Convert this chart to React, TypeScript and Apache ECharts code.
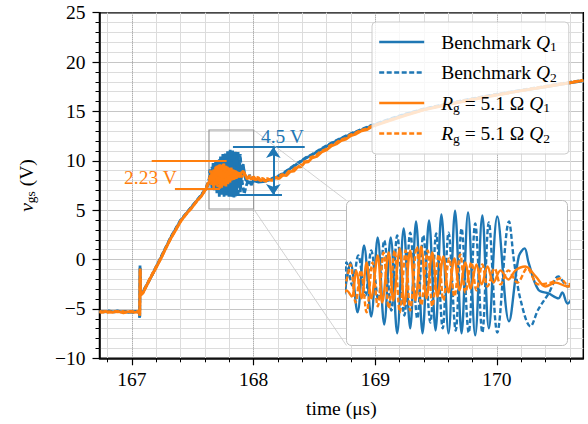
import React, { useEffect, useRef } from 'react';
import * as echarts from 'echarts';

const BLUE = '#1f77b4';
const ORANGE = '#ff7f0e';
const FONT = "'Liberation Serif', 'DejaVu Serif', serif";

const X_TICKS = [167, 168, 169, 170];
const SERIES_NAMES = ['Benchmark Q1', 'Benchmark Q2', 'Rg Q1', 'Rg Q2'];
const LEGEND_LABELS: Record<string, string> = {
  'Benchmark Q1': '{g| }Benchmark {i|Q}{s|1}',
  'Benchmark Q2': '{g| }Benchmark {i|Q}{s|2}',
  'Rg Q1': '{g| }{i|R}{s|g} = 5.1 Ω {i|Q}{s|1}',
  'Rg Q2': '{g| }{i|R}{s|g} = 5.1 Ω {i|Q}{s|2}',
};

// ---- Benchmark Q1 (solid blue) ----
const BQ1_PRE = [
  [166.733, -5.3], [166.76, -5.25], [166.79, -5.3], [166.82, -5.25], [166.85, -5.3], [166.88, -5.2],
  [166.91, -5.3], [166.94, -5.25], [166.97, -5.35], [167.0, -5.3], [167.03, -5.25], [167.06, -5.3],
  [167.063, -5.9], [167.066, -0.6], [167.07, -3.6], [167.09, -3.3], [167.155, -1.8], [167.24, 0.25],
  [167.32, 2.25], [167.4, 3.95], [167.49, 5.3], [167.57, 6.5], [167.61, 7.2], [167.635, 7.8],
];
const BQ1_RING = [
  [167.64, 8.41], [167.646, 9.11], [167.657, 7.18], [167.667, 9.76], [167.678, 7.02], [167.688, 10.07],
  [167.698, 6.71], [167.708, 10.07], [167.718, 6.37], [167.728, 10.42], [167.738, 6.56], [167.747, 10.69],
  [167.757, 6.37], [167.767, 10.73], [167.777, 6.48], [167.786, 10.96], [167.797, 6.37], [167.807, 11.11],
  [167.817, 6.37], [167.827, 11.04], [167.838, 6.29], [167.849, 10.92], [167.859, 6.56], [167.872, 10.88],
  [167.89, 6.83], [167.905, 9.34], [167.914, 9.65], [167.92, 9.11], [167.935, 8.06], [167.951, 7.91],
  [167.966, 7.72], [167.972, 7.95], [167.98, 7.52],
];
const BQ1_POST = [
  [167.99, 7.8], [168.0, 8.0], [168.04, 7.85], [168.08, 7.9], [168.14, 8.1], [168.2, 8.4], [168.25, 8.75],
  [168.3, 9.2], [168.36, 9.7], [168.42, 10.2], [168.48, 10.6], [168.56, 11.2], [168.64, 11.75],
  [168.72, 12.25], [168.8, 12.7], [168.88, 13.1], [168.97, 13.55], [169.1, 14.1], [169.25, 14.7],
  [169.4, 15.2], [169.6, 15.75], [169.8, 16.25], [170.0, 16.7], [170.2, 17.1], [170.4, 17.5],
  [170.6, 17.9], [170.71, 18.1],
];

// ---- Benchmark Q2 (dashed blue) ----
const BQ2_PRE = [
  [166.733, -5.25], [166.77, -5.3], [166.81, -5.2], [166.85, -5.3], [166.89, -5.25], [166.93, -5.3],
  [166.97, -5.25], [167.01, -5.35], [167.05, -5.3], [167.062, -5.25], [167.064, -5.8], [167.067, -0.8],
  [167.071, -3.5], [167.09, -3.25], [167.16, -1.7], [167.24, 0.3], [167.32, 2.3], [167.4, 4.0],
  [167.49, 5.35], [167.57, 6.55], [167.61, 7.3], [167.635, 8.2],
];
const BQ2_RING = [
  [167.64, 9.11], [167.649, 8.22], [167.658, 9.38], [167.669, 7.83], [167.678, 9.57], [167.689, 7.64],
  [167.698, 9.96], [167.709, 7.25], [167.718, 10.15], [167.729, 7.06], [167.738, 10.26], [167.749, 6.94],
  [167.758, 10.15], [167.769, 6.79], [167.778, 10.23], [167.788, 6.56], [167.797, 10.26], [167.808, 6.48],
  [167.817, 10.42], [167.828, 6.4], [167.838, 10.61], [167.849, 6.4], [167.859, 10.65], [167.872, 6.4],
  [167.89, 10.69], [167.898, 9.11], [167.908, 7.64], [167.923, 6.64], [167.935, 7.29], [167.951, 7.91],
  [167.966, 8.57], [167.972, 8.41], [167.98, 8.18],
];
const BQ2_POST = [
  [167.99, 8.3], [168.0, 8.1], [168.04, 7.9], [168.08, 7.95], [168.14, 8.15], [168.2, 8.45], [168.25, 8.8],
  [168.3, 9.25], [168.36, 9.75], [168.42, 10.25], [168.48, 10.65], [168.56, 11.25], [168.64, 11.8],
  [168.72, 12.3], [168.8, 12.75], [168.88, 13.15], [168.97, 13.6], [169.1, 14.15], [169.25, 14.75],
  [169.4, 15.25], [169.6, 15.8], [169.8, 16.3], [170.0, 16.75], [170.2, 17.15], [170.4, 17.55],
  [170.6, 17.95], [170.71, 18.15],
];

// ---- Rg = 5.1 Ω Q1 (solid orange) ----
const RQ1_PRE = [
  [166.733, -5.3], [166.75, -5.35], [166.78, -5.25], [166.81, -5.3], [166.84, -5.35], [166.87, -5.25],
  [166.9, -5.3], [166.93, -5.4], [166.96, -5.3], [166.99, -5.25], [167.02, -5.35], [167.05, -5.3],
  [167.062, -5.3], [167.064, -5.7], [167.067, -0.9], [167.071, -3.6], [167.09, -3.4], [167.15, -1.9],
  [167.2, -0.8], [167.24, 0.15], [167.28, 1.2], [167.32, 2.15], [167.36, 3.0], [167.4, 3.85],
  [167.45, 4.7], [167.49, 5.2], [167.53, 5.9], [167.57, 6.4], [167.61, 7.2], [167.635, 7.9],
];
const RQ1_RING = [
  [167.64, 8.03], [167.648, 7.79], [167.655, 8.8], [167.663, 7.72], [167.671, 9.11], [167.678, 7.72],
  [167.688, 9.38], [167.695, 7.56], [167.705, 9.49], [167.712, 7.64], [167.722, 9.65], [167.729, 7.45],
  [167.738, 9.57], [167.746, 7.64], [167.755, 9.72], [167.763, 7.72], [167.772, 9.49], [167.78, 7.79],
  [167.789, 9.34], [167.797, 7.95], [167.806, 9.26], [167.814, 8.03], [167.823, 9.11], [167.831, 8.1],
  [167.84, 9.03], [167.848, 8.26], [167.857, 8.95], [167.866, 8.33], [167.877, 8.8], [167.889, 8.45],
  [167.9, 8.8], [167.915, 8.95], [167.931, 8.57], [167.946, 8.18], [167.962, 8.33], [167.98, 8.18],
];
const RQ1_POST = [
  [167.99, 8.2], [168.0, 8.4], [168.02, 8.05], [168.04, 8.3], [168.06, 7.95], [168.08, 8.2], [168.1, 7.9],
  [168.12, 8.15], [168.15, 8.0], [168.18, 8.3], [168.21, 8.2], [168.24, 8.55], [168.27, 8.5], [168.3, 8.9],
  [168.33, 8.95], [168.36, 9.35], [168.39, 9.4], [168.42, 9.85], [168.45, 9.9], [168.48, 10.3],
  [168.52, 10.45], [168.56, 10.9], [168.6, 11.1], [168.64, 11.5], [168.68, 11.7], [168.72, 12.05],
  [168.76, 12.2], [168.8, 12.55], [168.84, 12.7], [168.88, 13.0], [168.93, 13.15], [168.97, 13.45],
  [169.1, 14.0], [169.25, 14.6], [169.4, 15.15], [169.6, 15.7], [169.8, 16.2], [170.0, 16.65],
  [170.2, 17.1], [170.4, 17.5], [170.6, 17.9], [170.71, 18.15],
];

// ---- Rg = 5.1 Ω Q2 (dashed orange) ----
const RQ2_PRE = [
  [166.733, -5.25], [166.76, -5.3], [166.8, -5.35], [166.84, -5.25], [166.88, -5.3], [166.92, -5.25],
  [166.96, -5.35], [167.0, -5.3], [167.04, -5.25], [167.062, -5.3], [167.064, -5.6], [167.067, -1.0],
  [167.071, -3.5], [167.09, -3.35], [167.15, -1.85], [167.24, 0.2], [167.32, 2.2], [167.4, 3.9],
  [167.49, 5.25], [167.57, 6.45], [167.61, 7.25], [167.635, 8.1],
];
const RQ2_RING = [
  [167.64, 8.41], [167.646, 9.03], [167.654, 7.56], [167.662, 8.8], [167.671, 7.18], [167.68, 9.11],
  [167.688, 7.41], [167.697, 9.49], [167.705, 7.33], [167.714, 9.57], [167.722, 7.18], [167.731, 9.57],
  [167.738, 7.25], [167.748, 9.72], [167.755, 7.45], [167.765, 9.57], [167.772, 7.41], [167.782, 9.42],
  [167.789, 7.64], [167.798, 9.26], [167.806, 7.79], [167.815, 9.42], [167.823, 7.95], [167.832, 9.11],
  [167.84, 8.03], [167.849, 9.03], [167.857, 8.18], [167.868, 8.88], [167.877, 8.26], [167.889, 8.8],
  [167.903, 8.33], [167.918, 8.88], [167.935, 8.26], [167.954, 8.33], [167.969, 8.49], [167.98, 8.26],
];
const RQ2_POST = [
  [167.99, 8.3], [168.01, 8.1], [168.03, 8.35], [168.05, 8.0], [168.07, 8.25], [168.09, 7.95],
  [168.11, 8.2], [168.14, 8.05], [168.17, 8.35], [168.2, 8.25], [168.23, 8.6], [168.26, 8.55],
  [168.29, 8.95], [168.32, 9.0], [168.35, 9.4], [168.38, 9.45], [168.41, 9.9], [168.44, 9.95],
  [168.47, 10.35], [168.51, 10.5], [168.55, 10.95], [168.59, 11.15], [168.63, 11.55], [168.67, 11.75],
  [168.71, 12.1], [168.75, 12.25], [168.79, 12.6], [168.83, 12.75], [168.87, 13.05], [168.92, 13.2],
  [168.97, 13.5], [169.1, 14.05], [169.25, 14.65], [169.4, 15.2], [169.6, 15.75], [169.8, 16.25],
  [170.0, 16.7], [170.2, 17.1], [170.4, 17.55], [170.6, 17.95], [170.71, 18.15],
];

const benchQ1 = [...BQ1_PRE, ...BQ1_RING, ...BQ1_POST];
const benchQ2 = [...BQ2_PRE, ...BQ2_RING, ...BQ2_POST];
const rgQ1 = [...RQ1_PRE, ...RQ1_RING, ...RQ1_POST];
const rgQ2 = [...RQ2_PRE, ...RQ2_RING, ...RQ2_POST];

// annotation values (data coordinates)
const BLUE_SPAN = { t0: 167.83, t1: 168.42, t1b: 168.233, hi: 11.4, lo: 6.54, tArrow: 168.162 };
const ORANGE_SPAN = { t0: 167.162, t1: 167.778, t0b: 167.353, t1b: 167.723, hi: 10.02, lo: 7.22 };
const ZOOM_BOX = { t0: 167.633, t1: 168.0, hi: 13.12, lo: 5.12 };
const INSET_X = [167.64, 167.98];
const INSET_Y = [5.9, 11.5];
const INSET_CORNER = { t: 168.763, top: 5.98, bottom: -8.7 };

const axisText = { color: '#000', fontSize: 19.5, fontFamily: FONT };

function buildOption() {
  const mainSeries = [
    {
      name: 'Benchmark Q1', data: benchQ1, color: BLUE, dash: 'solid',
      markLine: {
        silent: true, symbol: ['none', 'none'], symbolSize: [11, 11], label: { show: false },
        lineStyle: { color: BLUE, width: 2, type: 'solid' },
        data: [
          [{ coord: [BLUE_SPAN.t0, BLUE_SPAN.hi] }, { coord: [BLUE_SPAN.t1, BLUE_SPAN.hi] }],
          [{ coord: [BLUE_SPAN.t0, BLUE_SPAN.lo] }, { coord: [BLUE_SPAN.t1b, BLUE_SPAN.lo] }],
          [
            { coord: [BLUE_SPAN.tArrow, BLUE_SPAN.lo], symbol: 'arrow' },
            { coord: [BLUE_SPAN.tArrow, BLUE_SPAN.hi], symbol: 'arrow' },
          ],
        ],
      },
      markPoint: {
        silent: true, symbol: 'rect', symbolSize: 1, itemStyle: { color: 'rgba(0,0,0,0)' },
        label: { show: true, position: 'inside', formatter: '4.5 V', color: BLUE, fontSize: 19.5, fontFamily: FONT },
        data: [{ coord: [168.237, 12.42] }],
      },
    },
    {
      name: 'Benchmark Q2', data: benchQ2, color: BLUE, dash: [5, 2.5],
      markArea: {
        silent: true,
        itemStyle: { color: 'rgba(0,0,0,0)', borderColor: '#999', borderWidth: 1.2 },
        data: [[{ coord: [ZOOM_BOX.t0, ZOOM_BOX.hi] }, { coord: [ZOOM_BOX.t1, ZOOM_BOX.lo] }]],
      },
      markLine: {
        silent: true, symbol: ['none', 'none'], label: { show: false },
        lineStyle: { color: '#c8c8c8', width: 1, type: 'solid', opacity: 0.8 },
        data: [
          [{ coord: [ZOOM_BOX.t1, ZOOM_BOX.hi] }, { coord: [INSET_CORNER.t, INSET_CORNER.top] }],
          [{ coord: [ZOOM_BOX.t1, ZOOM_BOX.lo] }, { coord: [INSET_CORNER.t, INSET_CORNER.bottom] }],
        ],
      },
    },
    {
      name: 'Rg Q1', data: rgQ1, color: ORANGE, dash: 'solid',
      markLine: {
        silent: true, symbol: ['none', 'none'], label: { show: false },
        lineStyle: { color: ORANGE, width: 2, type: 'solid' },
        data: [
          [{ coord: [ORANGE_SPAN.t0, ORANGE_SPAN.hi] }, { coord: [ORANGE_SPAN.t1, ORANGE_SPAN.hi] }],
          [{ coord: [ORANGE_SPAN.t0b, ORANGE_SPAN.lo] }, { coord: [ORANGE_SPAN.t1b, ORANGE_SPAN.lo] }],
        ],
      },
      markPoint: {
        silent: true, symbol: 'rect', symbolSize: 1, itemStyle: { color: 'rgba(0,0,0,0)' },
        label: { show: true, position: 'inside', formatter: '2.23 V', color: ORANGE, fontSize: 19.5, fontFamily: FONT },
        data: [{ coord: [167.152, 8.31] }],
      },
    },
    { name: 'Rg Q2', data: rgQ2, color: ORANGE, dash: [5, 2.5] },
  ];

  const series: any[] = [];
  mainSeries.forEach((s: any) => {
    series.push({
      type: 'line', name: s.name, data: s.data, xAxisIndex: 0, yAxisIndex: 0,
      symbol: 'none', showSymbol: false, z: 3,
      itemStyle: { color: s.color },
      lineStyle: { color: s.color, width: 2.8, type: s.dash },
      markLine: s.markLine, markPoint: s.markPoint, markArea: s.markArea,
    });
  });
  mainSeries.forEach((s: any) => {
    series.push({
      type: 'line', name: s.name, data: s.data, xAxisIndex: 1, yAxisIndex: 1,
      symbol: 'none', showSymbol: false, smooth: 0.35, z: 3,
      itemStyle: { color: s.color },
      lineStyle: { color: s.color, width: 2.4, type: s.dash },
    });
  });

  return {
    animation: false,
    textStyle: { fontFamily: FONT },
    grid: [
      { left: 99.5, right: 4.7, top: 12.7, bottom: 65.7, show: true, borderColor: '#000', borderWidth: 1.5 },
      { left: 346.5, top: 200.5, width: 221, height: 145, show: false },
    ],
    xAxis: [
      {
        type: 'value', gridIndex: 0, min: 166.733, max: 170.71, splitNumber: 4,
        axisLine: { show: true, onZero: false, lineStyle: { color: '#000', width: 1.5 } },
        axisTick: { show: true, length: 7, customValues: X_TICKS, lineStyle: { color: '#000', width: 1.2 } },
        axisLabel: { ...axisText, margin: 11, customValues: X_TICKS },
        minorTick: { show: true, splitNumber: 5, length: 4, lineStyle: { color: '#000', width: 1 } },
        splitLine: { show: true, lineStyle: { color: '#8c8c8c', type: 'dotted', width: 1 } },
        minorSplitLine: { show: true, lineStyle: { color: '#dcdcdc', width: 1 } },
        name: 'time (μs)', nameLocation: 'middle', nameGap: 40, nameTextStyle: axisText,
      },
      { type: 'value', gridIndex: 1, min: INSET_X[0], max: INSET_X[1], show: false },
    ],
    yAxis: [
      {
        type: 'value', gridIndex: 0, min: -10, max: 25, interval: 5,
        axisLine: { show: true, onZero: false, lineStyle: { color: '#000', width: 1.5 } },
        axisTick: { show: true, length: 7, lineStyle: { color: '#000', width: 1.2 } },
        axisLabel: { ...axisText, margin: 14, formatter: (v: number) => String(v).replace('-', '\u2212') },
        minorTick: { show: true, splitNumber: 5, length: 4, lineStyle: { color: '#000', width: 1 } },
        splitLine: { show: true, lineStyle: { color: '#8c8c8c', type: 'dotted', width: 1 } },
        minorSplitLine: { show: true, lineStyle: { color: '#dcdcdc', width: 1 } },
        name: '{v|v}{s|gs} (V)', nameLocation: 'middle', nameRotate: 90, nameGap: 62,
        nameTextStyle: {
          ...axisText,
          rich: {
            v: { fontStyle: 'italic', fontSize: 19.5, fontFamily: FONT, color: '#000' },
            s: { fontSize: 13.5, fontFamily: FONT, color: '#000', padding: [9, 0, 0, 0] },
          },
        },
      },
      { type: 'value', gridIndex: 1, min: INSET_Y[0], max: INSET_Y[1], show: false },
    ],
    legend: {
      data: SERIES_NAMES, orient: 'vertical', left: 372, top: 22,
      itemWidth: 45, itemHeight: 12, itemGap: 8, padding: [9, 12, 9, 6],
      backgroundColor: 'rgba(255,255,255,0.8)', borderColor: '#cccccc', borderWidth: 1, borderRadius: 4,
      selectedMode: false,
      itemStyle: { opacity: 0 },
      lineStyle: { width: 2.4 },
      formatter: (name: string) => LEGEND_LABELS[name],
      textStyle: {
        color: '#000', fontSize: 19.5, fontFamily: FONT, lineHeight: 22,
        rich: {
          g: { width: 12, fontSize: 19.5 },
          i: { fontStyle: 'italic', fontSize: 19.5, fontFamily: FONT, color: '#000', lineHeight: 22 },
          s: { fontSize: 13.5, fontFamily: FONT, color: '#000', padding: [9, 0, 0, 0] },
        },
      },
    },
    graphic: {
      elements: [
        {
          type: 'rect', z: 1, silent: true,
          shape: { x: 346.5, y: 200.5, width: 221, height: 145, r: 5 },
          style: { fill: '#ffffff', stroke: '#bbbbbb', lineWidth: 1 },
        },
      ],
    },
    series,
  };
}

export default function App() {
  const ref = useRef<HTMLDivElement>(null);
  useEffect(() => {
    document.body.style.margin = '0';
    const chart = echarts.init(ref.current!, null, { renderer: 'svg' });
    chart.setOption(buildOption() as any);
    return () => chart.dispose();
  }, []);
  return <div ref={ref} style={{ width: 588, height: 424 }} />;
}
